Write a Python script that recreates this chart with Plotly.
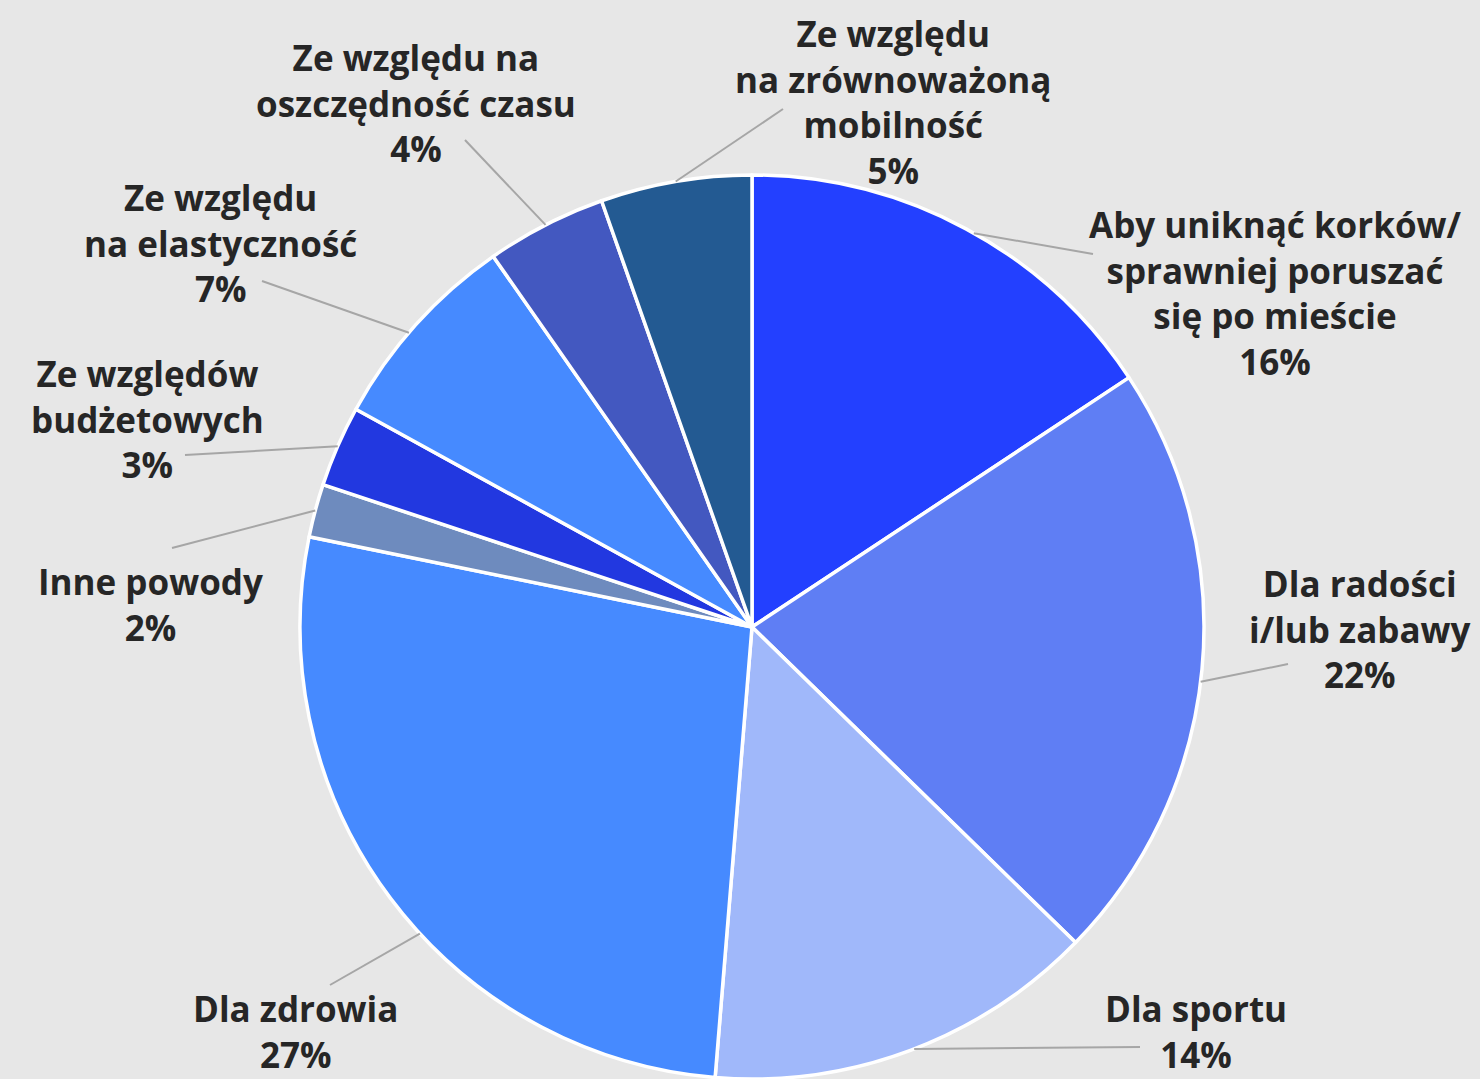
import math
import plotly.graph_objects as go

# ---- data ----
categories = [
    "Aby uniknąć korków/<br>sprawniej poruszać<br>się po mieście",
    "Dla radości<br>i/lub zabawy",
    "Dla sportu",
    "Dla zdrowia",
    "Inne powody",
    "Ze względów<br>budżetowych",
    "Ze względu<br>na elastyczność",
    "Ze względu na<br>oszczędność czasu",
    "Ze względu<br>na zrównoważoną<br>mobilność",
]
values = [15.7, 21.6, 14.0, 26.9, 1.9, 2.9, 7.3, 4.3, 5.4]
colors = ["#2340FF", "#5F7EF4", "#A0B8FA", "#468AFF", "#6E8BBE",
          "#2238E0", "#468AFF", "#4358C0", "#235A92"]

# ---- layout (pixels in the 1480x1079 canvas) ----
W, H = 1480, 1079
CX, CY, R = 752, 627, 452
# label block centres and leader-line end points
label_pos = [(1275, 293), (1360, 629), (1196, 1031), (295, 1031), (150, 604),
             (147, 419), (220, 243), (416, 103), (893, 102)]
line_end = [(1093, 254), (1288, 664), (1140, 1047), (330, 985), (172, 548),
            (185, 455), (262, 281), (465, 140), (783, 109)]
anchor_frac = [0.52, 0.52, 0.49, 0.44, 0.5, 0.5, 0.45, 0.5, 0.5]

def px(x):
    return x / W

def py(y):
    return 1 - y / H

fig = go.Figure(go.Pie(
    labels=[c.replace("<br>", " ") for c in categories],
    values=values,
    sort=False,
    direction="clockwise",
    rotation=0,
    textinfo="none",
    hoverinfo="label+percent",
    marker=dict(colors=colors, line=dict(color="white", width=3.5)),
    domain=dict(x=[px(CX - R), px(CX + R)], y=[py(CY + R), py(CY - R)]),
    showlegend=False,
))

total = sum(values)
cum = 0.0
shapes = []
annotations = []
for i, v in enumerate(values):
    ang = (cum + v * anchor_frac[i]) / total * 2 * math.pi
    cum += v
    sx = CX + R * math.sin(ang)
    sy = CY - R * math.cos(ang)
    ex, ey = line_end[i]
    shapes.append(dict(type="line", xref="paper", yref="paper",
                       x0=px(sx), y0=py(sy), x1=px(ex), y1=py(ey),
                       line=dict(color="#A6A6A6", width=2)))
    lx, ly = label_pos[i]
    annotations.append(dict(
        x=px(lx), y=py(ly), xref="paper", yref="paper",
        text=f"{categories[i]}<br>{round(v)}%",
        showarrow=False, xanchor="center", yanchor="middle", align="center",
        font=dict(family="Open Sans", size=35, color="#262626", weight="bold"),
    ))

fig.update_layout(
    width=W, height=H,
    margin=dict(l=0, r=0, t=0, b=0),
    paper_bgcolor="#E7E7E7",
    plot_bgcolor="#E7E7E7",
    shapes=shapes,
    annotations=annotations,
)

fig.write_html("out.html",
               config={"displayModeBar": False},
               post_script="document.body.style.margin='0';document.body.style.overflow='hidden';")
